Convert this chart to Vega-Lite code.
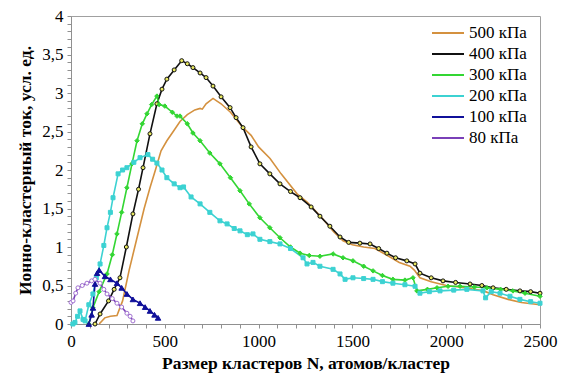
{
  "$schema": "https://vega.github.io/schema/vega-lite/v6.json",
  "width": 469,
  "height": 308,
  "autosize": "none",
  "padding": {"left": 71, "top": 16, "right": 21, "bottom": 57},
  "config": {
    "font": "Liberation Serif",
    "style": {"guide-label": {"font": "Liberation Serif", "fill": "#000"}, "guide-title": {"font": "Liberation Serif"}},
    "view": {"stroke": "#A0A0A0", "strokeWidth": 1},
    "axis": {"grid": false, "domainColor": "#909090", "tickColor": "#909090", "labelFont": "Liberation Serif", "labelFontSize": 17, "labelColor": "#000", "titleFont": "Liberation Serif", "titleFontSize": 17.5, "titleFontWeight": "bold", "titleColor": "#000", "tickSize": 4},
    "legend": {"labelFont": "Liberation Serif"}
  },
  "datasets": {
    "d": [
      {"s":"500 кПа","N":150,"v":0},{"s":"500 кПа","N":180,"v":0.08},{"s":"500 кПа","N":210,"v":0.1},{"s":"500 кПа","N":245,"v":0.11},{"s":"500 кПа","N":275,"v":0.3},{"s":"500 кПа","N":310,"v":0.7},{"s":"500 кПа","N":350,"v":1.1},{"s":"500 кПа","N":390,"v":1.5},{"s":"500 кПа","N":421,"v":1.77},{"s":"500 кПа","N":450,"v":2.0},{"s":"500 кПа","N":480,"v":2.25},{"s":"500 кПа","N":511,"v":2.38},{"s":"500 кПа","N":545,"v":2.5},{"s":"500 кПа","N":581,"v":2.63},{"s":"500 кПа","N":620,"v":2.72},{"s":"500 кПа","N":660,"v":2.78},{"s":"500 кПа","N":688,"v":2.8},{"s":"500 кПа","N":700,"v":2.79},{"s":"500 кПа","N":720,"v":2.86},{"s":"500 кПа","N":757,"v":2.93},{"s":"500 кПа","N":800,"v":2.86},{"s":"500 кПа","N":850,"v":2.75},{"s":"500 кПа","N":917,"v":2.55},{"s":"500 кПа","N":960,"v":2.45},{"s":"500 кПа","N":1000,"v":2.3},{"s":"500 кПа","N":1061,"v":2.15},{"s":"500 кПа","N":1120,"v":1.95},{"s":"500 кПа","N":1205,"v":1.69},{"s":"500 кПа","N":1260,"v":1.58},{"s":"500 кПа","N":1330,"v":1.4},{"s":"500 кПа","N":1400,"v":1.2},{"s":"500 кПа","N":1450,"v":1.08},{"s":"500 кПа","N":1500,"v":1.03},{"s":"500 кПа","N":1560,"v":1.0},{"s":"500 кПа","N":1620,"v":0.98},{"s":"500 кПа","N":1680,"v":0.9},{"s":"500 кПа","N":1750,"v":0.8},{"s":"500 кПа","N":1807,"v":0.75},{"s":"500 кПа","N":1830,"v":0.7},{"s":"500 кПа","N":1860,"v":0.6},{"s":"500 кПа","N":1920,"v":0.55},{"s":"500 кПа","N":2000,"v":0.5},{"s":"500 кПа","N":2100,"v":0.47},{"s":"500 кПа","N":2200,"v":0.43},{"s":"500 кПа","N":2250,"v":0.38},{"s":"500 кПа","N":2330,"v":0.32},{"s":"500 кПа","N":2400,"v":0.28},{"s":"500 кПа","N":2500,"v":0.25},

      {"s":"400 кПа","N":128,"v":0},{"s":"400 кПа","N":155,"v":0.13},{"s":"400 кПа","N":200,"v":0.3},{"s":"400 кПа","N":230,"v":0.45},{"s":"400 кПа","N":261,"v":0.6},{"s":"400 кПа","N":295,"v":1.0},{"s":"400 кПа","N":330,"v":1.43},{"s":"400 кПа","N":360,"v":1.75},{"s":"400 кПа","N":384,"v":2.03},{"s":"400 кПа","N":421,"v":2.47},{"s":"400 кПа","N":458,"v":2.86},{"s":"400 кПа","N":485,"v":3.05},{"s":"400 кПа","N":511,"v":3.18},{"s":"400 кПа","N":550,"v":3.3},{"s":"400 кПа","N":590,"v":3.42},{"s":"400 кПа","N":620,"v":3.38},{"s":"400 кПа","N":650,"v":3.33},{"s":"400 кПа","N":688,"v":3.26},{"s":"400 кПа","N":720,"v":3.2},{"s":"400 кПа","N":757,"v":3.09},{"s":"400 кПа","N":800,"v":2.95},{"s":"400 кПа","N":848,"v":2.81},{"s":"400 кПа","N":880,"v":2.68},{"s":"400 кПа","N":917,"v":2.55},{"s":"400 кПа","N":960,"v":2.3},{"s":"400 кПа","N":1007,"v":2.08},{"s":"400 кПа","N":1060,"v":1.95},{"s":"400 кПа","N":1114,"v":1.82},{"s":"400 кПа","N":1170,"v":1.72},{"s":"400 кПа","N":1221,"v":1.64},{"s":"400 кПа","N":1280,"v":1.52},{"s":"400 кПа","N":1327,"v":1.4},{"s":"400 кПа","N":1380,"v":1.27},{"s":"400 кПа","N":1434,"v":1.13},{"s":"400 кПа","N":1480,"v":1.06},{"s":"400 кПа","N":1540,"v":1.05},{"s":"400 кПа","N":1594,"v":1.04},{"s":"400 кПа","N":1640,"v":0.98},{"s":"400 кПа","N":1684,"v":0.92},{"s":"400 кПа","N":1730,"v":0.86},{"s":"400 кПа","N":1790,"v":0.82},{"s":"400 кПа","N":1834,"v":0.78},{"s":"400 кПа","N":1860,"v":0.66},{"s":"400 кПа","N":1920,"v":0.6},{"s":"400 кПа","N":1983,"v":0.56},{"s":"400 кПа","N":2050,"v":0.54},{"s":"400 кПа","N":2127,"v":0.52},{"s":"400 кПа","N":2190,"v":0.5},{"s":"400 кПа","N":2250,"v":0.47},{"s":"400 кПа","N":2320,"v":0.45},{"s":"400 кПа","N":2393,"v":0.43},{"s":"400 кПа","N":2450,"v":0.42},{"s":"400 кПа","N":2500,"v":0.4},

      {"s":"300 кПа","N":95,"v":0},{"s":"300 кПа","N":117,"v":0.21},{"s":"300 кПа","N":150,"v":0.42},{"s":"300 кПа","N":192,"v":0.65},{"s":"300 кПа","N":220,"v":0.9},{"s":"300 кПа","N":245,"v":1.17},{"s":"300 кПа","N":270,"v":1.45},{"s":"300 кПа","N":298,"v":1.77},{"s":"300 кПа","N":325,"v":2.08},{"s":"300 кПа","N":352,"v":2.38},{"s":"300 кПа","N":380,"v":2.6},{"s":"300 кПа","N":405,"v":2.73},{"s":"300 кПа","N":430,"v":2.85},{"s":"300 кПа","N":458,"v":2.96},{"s":"300 кПа","N":470,"v":2.85},{"s":"300 кПа","N":500,"v":2.83},{"s":"300 кПа","N":540,"v":2.75},{"s":"300 кПа","N":565,"v":2.7},{"s":"300 кПа","N":581,"v":2.7},{"s":"300 кПа","N":620,"v":2.6},{"s":"300 кПа","N":650,"v":2.48},{"s":"300 кПа","N":688,"v":2.38},{"s":"300 кПа","N":740,"v":2.22},{"s":"300 кПа","N":794,"v":2.08},{"s":"300 кПа","N":850,"v":1.9},{"s":"300 кПа","N":901,"v":1.73},{"s":"300 кПа","N":950,"v":1.56},{"s":"300 кПа","N":1007,"v":1.38},{"s":"300 кПа","N":1060,"v":1.25},{"s":"300 кПа","N":1114,"v":1.12},{"s":"300 кПа","N":1170,"v":1.0},{"s":"300 кПа","N":1221,"v":0.92},{"s":"300 кПа","N":1270,"v":0.89},{"s":"300 кПа","N":1327,"v":0.88},{"s":"300 кПа","N":1397,"v":0.91},{"s":"300 кПа","N":1450,"v":0.86},{"s":"300 кПа","N":1503,"v":0.82},{"s":"300 кПа","N":1560,"v":0.75},{"s":"300 кПа","N":1610,"v":0.69},{"s":"300 кПа","N":1660,"v":0.63},{"s":"300 кПа","N":1716,"v":0.58},{"s":"300 кПа","N":1780,"v":0.57},{"s":"300 кПа","N":1823,"v":0.6},{"s":"300 кПа","N":1844,"v":0.43},{"s":"300 кПа","N":1900,"v":0.45},{"s":"300 кПа","N":1951,"v":0.47},{"s":"300 кПа","N":2010,"v":0.49},{"s":"300 кПа","N":2074,"v":0.49},{"s":"300 кПа","N":2150,"v":0.48},{"s":"300 кПа","N":2217,"v":0.47},{"s":"300 кПа","N":2290,"v":0.45},{"s":"300 кПа","N":2356,"v":0.43},{"s":"300 кПа","N":2420,"v":0.4},{"s":"300 кПа","N":2500,"v":0.36},

      {"s":"200 кПа","N":10,"v":0},{"s":"200 кПа","N":21,"v":0.02},{"s":"200 кПа","N":35,"v":0.1},{"s":"200 кПа","N":48,"v":0.17},{"s":"200 кПа","N":64,"v":0.06},{"s":"200 кПа","N":75,"v":0.04},{"s":"200 кПа","N":95,"v":0.25},{"s":"200 кПа","N":117,"v":0.39},{"s":"200 кПа","N":135,"v":0.6},{"s":"200 кПа","N":155,"v":0.78},{"s":"200 кПа","N":175,"v":1.02},{"s":"200 кПа","N":192,"v":1.25},{"s":"200 кПа","N":210,"v":1.45},{"s":"200 кПа","N":224,"v":1.64},{"s":"200 кПа","N":251,"v":1.95},{"s":"200 кПа","N":275,"v":2.0},{"s":"200 кПа","N":298,"v":2.03},{"s":"200 кПа","N":335,"v":2.1},{"s":"200 кПа","N":368,"v":2.16},{"s":"200 кПа","N":410,"v":2.2},{"s":"200 кПа","N":435,"v":2.14},{"s":"200 кПа","N":458,"v":2.09},{"s":"200 кПа","N":485,"v":2.0},{"s":"200 кПа","N":511,"v":1.9},{"s":"200 кПа","N":550,"v":1.82},{"s":"200 кПа","N":581,"v":1.77},{"s":"200 кПа","N":600,"v":1.78},{"s":"200 кПа","N":640,"v":1.65},{"s":"200 кПа","N":688,"v":1.56},{"s":"200 кПа","N":740,"v":1.45},{"s":"200 кПа","N":794,"v":1.34},{"s":"200 кПа","N":832,"v":1.3},{"s":"200 кПа","N":870,"v":1.24},{"s":"200 кПа","N":901,"v":1.21},{"s":"200 кПа","N":940,"v":1.16},{"s":"200 кПа","N":970,"v":1.17},{"s":"200 кПа","N":1007,"v":1.1},{"s":"200 кПа","N":1060,"v":1.07},{"s":"200 кПа","N":1114,"v":1.04},{"s":"200 кПа","N":1170,"v":0.98},{"s":"200 кПа","N":1237,"v":0.86},{"s":"200 кПа","N":1258,"v":0.78},{"s":"200 кПа","N":1290,"v":0.8},{"s":"200 кПа","N":1327,"v":0.75},{"s":"200 кПа","N":1397,"v":0.71},{"s":"200 кПа","N":1434,"v":0.65},{"s":"200 кПа","N":1461,"v":0.58},{"s":"200 кПа","N":1503,"v":0.6},{"s":"200 кПа","N":1560,"v":0.59},{"s":"200 кПа","N":1610,"v":0.58},{"s":"200 кПа","N":1660,"v":0.55},{"s":"200 кПа","N":1716,"v":0.53},{"s":"200 кПа","N":1780,"v":0.51},{"s":"200 кПа","N":1834,"v":0.49},{"s":"200 кПа","N":1860,"v":0.4},{"s":"200 кПа","N":1910,"v":0.42},{"s":"200 кПа","N":1967,"v":0.43},{"s":"200 кПа","N":2040,"v":0.44},{"s":"200 кПа","N":2110,"v":0.45},{"s":"200 кПа","N":2196,"v":0.43},{"s":"200 кПа","N":2210,"v":0.34},{"s":"200 кПа","N":2240,"v":0.42},{"s":"200 кПа","N":2287,"v":0.4},{"s":"200 кПа","N":2340,"v":0.36},{"s":"200 кПа","N":2393,"v":0.32},{"s":"200 кПа","N":2450,"v":0.29},{"s":"200 кПа","N":2500,"v":0.27},

      {"s":"100 кПа","N":95,"v":0},{"s":"100 кПа","N":110,"v":0.12},{"s":"100 кПа","N":117,"v":0.21},{"s":"100 кПа","N":128,"v":0.52},{"s":"100 кПа","N":139,"v":0.66},{"s":"100 кПа","N":150,"v":0.7},{"s":"100 кПа","N":181,"v":0.62},{"s":"100 кПа","N":210,"v":0.58},{"s":"100 кПа","N":245,"v":0.53},{"s":"100 кПа","N":270,"v":0.47},{"s":"100 кПа","N":298,"v":0.39},{"s":"100 кПа","N":330,"v":0.32},{"s":"100 кПа","N":368,"v":0.27},{"s":"100 кПа","N":395,"v":0.22},{"s":"100 кПа","N":421,"v":0.17},{"s":"100 кПа","N":445,"v":0.12},{"s":"100 кПа","N":464,"v":0.08},

      {"s":"80 кПа","N":0,"v":0.28},{"s":"80 кПа","N":11,"v":0.3},{"s":"80 кПа","N":25,"v":0.4},{"s":"80 кПа","N":37,"v":0.47},{"s":"80 кПа","N":60,"v":0.5},{"s":"80 кПа","N":85,"v":0.53},{"s":"80 кПа","N":110,"v":0.56},{"s":"80 кПа","N":128,"v":0.58},{"s":"80 кПа","N":155,"v":0.53},{"s":"80 кПа","N":175,"v":0.45},{"s":"80 кПа","N":192,"v":0.39},{"s":"80 кПа","N":220,"v":0.33},{"s":"80 кПа","N":245,"v":0.27},{"s":"80 кПа","N":270,"v":0.22},{"s":"80 кПа","N":298,"v":0.14},{"s":"80 кПа","N":315,"v":0.1},{"s":"80 кПа","N":330,"v":0.04}
    ]
  },
  "data": {"name": "d"},
  "encoding": {
    "x": {
      "field": "N", "type": "quantitative",
      "scale": {"domain": [0, 2500], "nice": false},
      "axis": {
        "title": "Размер кластеров N, атомов/кластер",
        "values": [0,100,200,300,400,500,600,700,800,900,1000,1100,1200,1300,1400,1500,1600,1700,1800,1900,2000,2100,2200,2300,2400,2500],
        "labelExpr": "datum.value % 500 === 0 ? datum.label : ''",
        "format": "d",
        "labelPadding": 5,
        "titlePadding": 5,
        "labelFlush": false,
        "labelOverlap": false
      }
    },
    "y": {
      "field": "v", "type": "quantitative",
      "scale": {"domain": [0, 4], "nice": false},
      "axis": {
        "title": "Ионно-кластерный ток, усл. ед.",
        "values": [0,0.1,0.2,0.3,0.4,0.5,0.6,0.7,0.8,0.9,1,1.1,1.2,1.3,1.4,1.5,1.6,1.7,1.8,1.9,2,2.1,2.2,2.3,2.4,2.5,2.6,2.7,2.8,2.9,3,3.1,3.2,3.3,3.4,3.5,3.6,3.7,3.8,3.9,4],
        "labelExpr": "abs(datum.value*2 - round(datum.value*2)) < 0.001 ? replace(format(datum.value, '.1~f'), '.', ',') : ''",
        "labelPadding": 4,
        "titlePadding": 7,
        "labelFlush": false,
        "labelOverlap": false
      }
    }
  },
  "layer": [
    {
      "mark": {"type": "line", "strokeWidth": 1.6, "interpolate": "linear"},
      "encoding": {
        "color": {
          "field": "s", "type": "nominal",
          "scale": {
            "domain": ["500 кПа","400 кПа","300 кПа","200 кПа","100 кПа","80 кПа"],
            "range": ["#D4913F","#111111","#33D633","#3CD2D2","#10109A","#7A40B8"]
          },
          "legend": {
            "title": null,
            "orient": "none",
            "legendX": 366,
            "legendY": 6,
            "symbolType": "M-1.6,0L1.6,0",
            "symbolSize": 400,
            "symbolStrokeWidth": 2,
            "labelFont": "Liberation Serif",
            "labelFontSize": 17,
            "labelColor": "#000",
            "rowPadding": 2,
            "labelOffset": 10
          }
        },
        "detail": {"field": "s"}
      }
    },
    {
      "transform": [{"filter": "datum.s !== '500 кПа'"}],
      "mark": {"type": "point", "filled": false, "strokeWidth": 1, "opacity": 1},
      "encoding": {
        "shape": {
          "condition": [
            {"test": "datum.s === '300 кПа'", "value": "diamond"},
            {"test": "datum.s === '200 кПа'", "value": "square"},
            {"test": "datum.s === '100 кПа'", "value": "triangle-up"}
          ],
          "value": "circle"
        },
        "fill": {
          "condition": [
            {"test": "datum.s === '400 кПа'", "value": "#E8E860"},
            {"test": "datum.s === '300 кПа'", "value": "#33D633"},
            {"test": "datum.s === '200 кПа'", "value": "#3CD2D2"},
            {"test": "datum.s === '100 кПа'", "value": "#10109A"}
          ],
          "value": "#FFFFFF"
        },
        "stroke": {
          "condition": [
            {"test": "datum.s === '400 кПа'", "value": "#111111"},
            {"test": "datum.s === '300 кПа'", "value": "#33D633"},
            {"test": "datum.s === '200 кПа'", "value": "#3CD2D2"},
            {"test": "datum.s === '100 кПа'", "value": "#10109A"}
          ],
          "value": "#A070D0"
        },
        "size": {
          "condition": [
            {"test": "datum.s === '100 кПа'", "value": 30},
            {"test": "datum.s === '300 кПа'", "value": 20}
          ],
          "value": 16
        }
      }
    }
  ]
}
